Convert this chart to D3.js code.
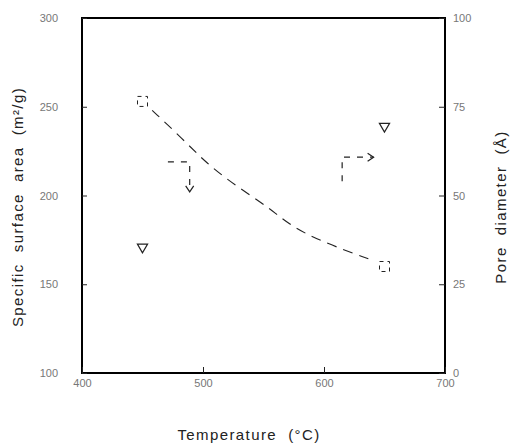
<!DOCTYPE html>
<html>
<head>
<meta charset="utf-8">
<script src="https://cdn.jsdelivr.net/npm/d3@7"></script>
<style>
  body { margin: 0; background: #fff; }
  text { font-family: "Liberation Sans", Arial, sans-serif; }
</style>
</head>
<body>
<div id="chart"></div>
<script>
var width = 511,
  height = 448;

var margin = {left: 82, top: 18, right: 66, bottom: 75};

// tick labels
var xTicks = [400, 500, 600, 700];
var leftTicks = [100, 150, 200, 250, 300];
var rightTicks = [0, 25, 50, 75, 100];

// measured points
var areaTemp = [450, 650];
var areaValue = [253, 160];
var poreTemp = [450, 650];
var poreValue = [35.5, 69.5];

// dashed trend curve through the surface area data
var curveTemp = [458, 483, 503, 528, 554, 572, 598, 638];
var curveArea = [248, 232, 218, 205, 193.5, 183, 174, 164];

// arrows telling which axis each series uses
var leftArrowTemp = [471, 489, 489];
var leftArrowArea = [219, 219, 202];
var rightArrowTemp = [615, 615, 641];
var rightArrowPore = [54, 60.8, 60.8];

var svg = d3.select("#chart").append("svg")
  .attr("width", width)
  .attr("height", height);

var x = d3.scaleLinear().domain([400, 700]).range([margin.left, width - margin.right]);
var yl = d3.scaleLinear().domain([100, 300]).range([height - margin.bottom, margin.top]);
var yr = d3.scaleLinear().domain([0, 100]).range([height - margin.bottom, margin.top]);

var ink = "#222";

// frame
svg.append("rect")
  .attr("x", x(400))
  .attr("y", yl(300))
  .attr("width", x(700) - x(400))
  .attr("height", yl(100) - yl(300))
  .attr("fill", "none")
  .attr("stroke", "#000")
  .attr("stroke-width", 2);

// axes, ticks point inward
svg.append("g")
  .attr("transform", "translate(0," + yl(100) + ")")
  .call(d3.axisBottom(x).tickValues(xTicks).tickSizeInner(-6).tickSizeOuter(0).tickPadding(6))
  .call(function(g) { g.select(".domain").remove(); });

svg.append("g")
  .attr("transform", "translate(" + x(400) + ",0)")
  .call(d3.axisLeft(yl).tickValues(leftTicks).tickSizeInner(-5).tickSizeOuter(0).tickPadding(24))
  .call(function(g) { g.select(".domain").remove(); });

svg.append("g")
  .attr("transform", "translate(" + x(700) + ",0)")
  .call(d3.axisRight(yr).tickValues(rightTicks).tickSizeInner(-6).tickSizeOuter(0).tickPadding(8))
  .call(function(g) { g.select(".domain").remove(); });

svg.selectAll(".tick text")
  .attr("font-size", 11)
  .attr("fill", "#777");
svg.selectAll(".tick line")
  .attr("stroke", ink);

// axis titles
function title(sel) {
  return sel
    .attr("text-anchor", "middle")
    .attr("font-size", 15)
    .attr("letter-spacing", 1.4)
    .attr("fill", ink)
    .style("white-space", "pre");
}

svg.append("text")
  .attr("transform", "translate(23,207) rotate(-90)")
  .call(title)
  .text("Specific  surface  area  (m²/g)");

svg.append("text")
  .attr("transform", "translate(506,207) rotate(-90)")
  .call(title)
  .text("Pore  diameter  (Å)");

svg.append("text")
  .attr("x", 249)
  .attr("y", 440)
  .call(title)
  .text("Temperature  (°C)");

// trend curve
var curveLine = d3.line()
  .x(function(d) { return x(d[0]); })
  .y(function(d) { return yl(d[1]); })
  .curve(d3.curveBasis);

svg.append("path")
  .datum(d3.zip(curveTemp, curveArea))
  .attr("d", curveLine)
  .attr("fill", "none")
  .attr("stroke", ink)
  .attr("stroke-width", 1.1)
  .attr("stroke-dasharray", "10,7");

// surface area squares
svg.selectAll(".sq")
  .data(d3.zip(areaTemp, areaValue))
  .enter().append("rect")
  .attr("class", "sq")
  .attr("x", function(d) { return x(d[0]) - 5; })
  .attr("y", function(d) { return yl(d[1]) - 5; })
  .attr("width", 10)
  .attr("height", 10)
  .attr("fill", "none")
  .attr("stroke", ink)
  .attr("stroke-width", 1)
  .attr("stroke-dasharray", "4,4");

// pore diameter triangles
svg.selectAll(".tri")
  .data(d3.zip(poreTemp, poreValue))
  .enter().append("path")
  .attr("class", "tri")
  .attr("transform", function(d) { return "translate(" + x(d[0]) + "," + yr(d[1]) + ") rotate(180)"; })
  .attr("d", d3.symbol(d3.symbolTriangle, 45))
  .attr("fill", "none")
  .attr("stroke", ink)
  .attr("stroke-width", 1.2);

// arrows
var arrowLine = d3.line();

function arrow(pts, dir) {
  svg.append("path")
    .attr("d", arrowLine(pts))
    .attr("fill", "none")
    .attr("stroke", ink)
    .attr("stroke-width", 1.2)
    .attr("stroke-dasharray", "6,7");
  var tip = pts[pts.length - 1];
  var head = dir === "down"
    ? [[tip[0] - 4, tip[1] - 6], tip, [tip[0] + 4, tip[1] - 6]]
    : [[tip[0] - 6, tip[1] - 4], tip, [tip[0] - 6, tip[1] + 4]];
  svg.append("path")
    .attr("d", arrowLine(head))
    .attr("fill", "none")
    .attr("stroke", ink)
    .attr("stroke-width", 1.2);
}

arrow(d3.zip(leftArrowTemp, leftArrowArea).map(function(d) { return [x(d[0]), yl(d[1])]; }), "down");
arrow(d3.zip(rightArrowTemp, rightArrowPore).map(function(d) { return [x(d[0]), yr(d[1])]; }), "right");
</script>
</body>
</html>
